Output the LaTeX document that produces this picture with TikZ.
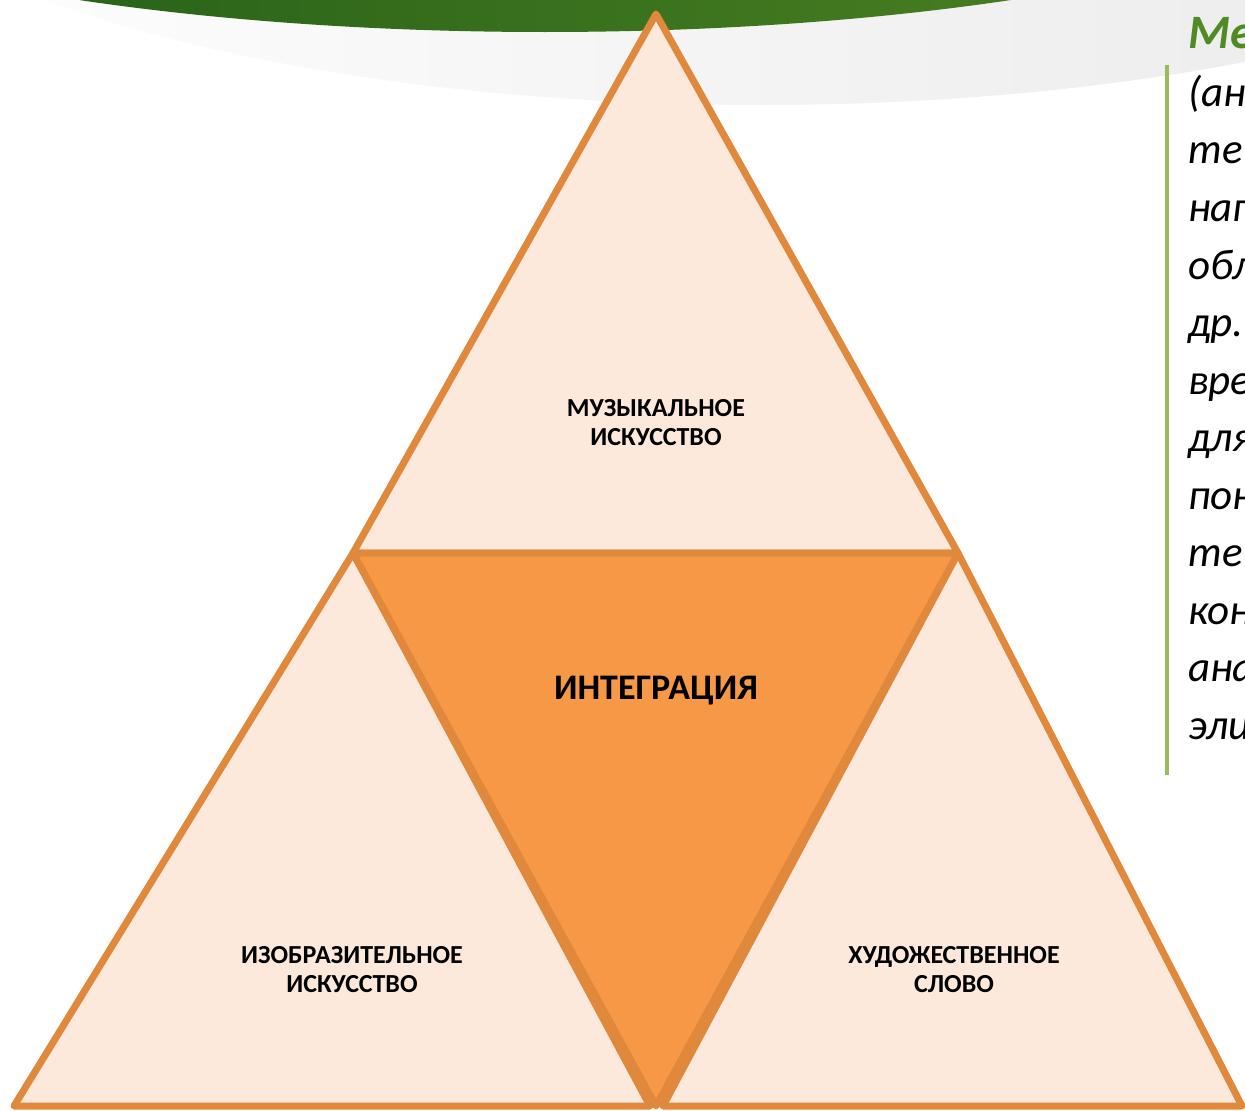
\documentclass[tikz,border=0pt]{standalone}
\usepackage{fontspec}
\setmainfont{Carlito}
\definecolor{edge}{HTML}{E0883C}
\definecolor{pale}{HTML}{FCE9DB}
\definecolor{core}{HTML}{F69846}
\definecolor{leaf}{HTML}{4F8A24}
\definecolor{leaflight}{HTML}{528C2A}
\definecolor{leafdark}{HTML}{2A6419}
\definecolor{stripe}{HTML}{9BBB59}

\tikzset{
	part/.style={draw=edge, line width=7pt, line join=round, fill=pale},
	arttext/.style={font=\bfseries\fontsize{26}{29}\selectfont, align=center, text=black},
	remark/.style={font=\itshape\fontsize{43}{50}\selectfont, anchor=base west, inner sep=0pt},
}

\begin{document}
\begin{tikzpicture}[x=1pt, y=-1pt]
			\useasboundingbox (0,0) rectangle (1245,1111);
			\clip (0,0) rectangle (1245,1111);
			
			% top banner
			\shade[left color=white, right color=black!9] (760,-210) ellipse (960 and 315);
			\begin{scope}
				\clip (545,-200) ellipse (919 and 232);
				\shade[left color=leafdark, middle color=leaflight, right color=leaf!90!black] (80,-5) rectangle (1040,40);
			\end{scope}
			
			\coordinate (top)  at (656, 14);
			\coordinate (midl) at (353, 553);
			\coordinate (midr) at (958, 553);
			\coordinate (low)  at (656, 1106);
			
			\coordinate (ll) at (14, 1106);
			\coordinate (lr) at (650, 1106);
			\coordinate (rl) at (663, 1106);
			\coordinate (rr) at (1242, 1106);
			
			\draw[part] (top) -- (midr) -- (midl) -- cycle;
			\draw[part] (midl) -- (lr) -- (ll) -- cycle;
			\draw[part] (midr) -- (rr) -- (rl) -- cycle;
			\draw[part, fill=core] (midl) -- (midr) -- (low) -- cycle;
			
			\node[arttext] (music) at (656, 423) {МУЗЫКАЛЬНОЕ\\ИСКУССТВО};
			\node[arttext, font=\bfseries\fontsize{36}{40}\selectfont] (integr) at (656, 691) {ИНТЕГРАЦИЯ};
			\node[arttext] (fine)  at (352, 970) {ИЗОБРАЗИТЕЛЬНОЕ\\ИСКУССТВО};
			\node[arttext] (word)  at (954, 970) {ХУДОЖЕСТВЕННОЕ\\СЛОВО};
			
			% side note, cut by the frame
			\draw[stripe, line width=4pt] (1167, 65) -- (1167, 775);
			\node[remark, font=\bfseries\itshape\fontsize{48}{50}\selectfont, text=leaf] (title) at (1188, 48) {Ме};
			\node[remark] (n1)  at (1188, 106) {(ан};
			\node[remark] (n2)  at (1188, 163) {те};
			\node[remark] (n3)  at (1188, 221) {нап};
			\node[remark] (n4)  at (1188, 279) {обл};
			\node[remark] (n5)  at (1188, 336) {др.};
			\node[remark] (n6)  at (1188, 394) {вре};
			\node[remark] (n7)  at (1188, 451) {для};
			\node[remark] (n8)  at (1188, 509) {пон};
			\node[remark] (n9)  at (1188, 566) {те};
			\node[remark] (n10) at (1188, 624) {кон};
			\node[remark] (n11) at (1188, 681) {ана};
			\node[remark] (n12) at (1188, 739) {эли};
		\end{tikzpicture}
\end{document}
